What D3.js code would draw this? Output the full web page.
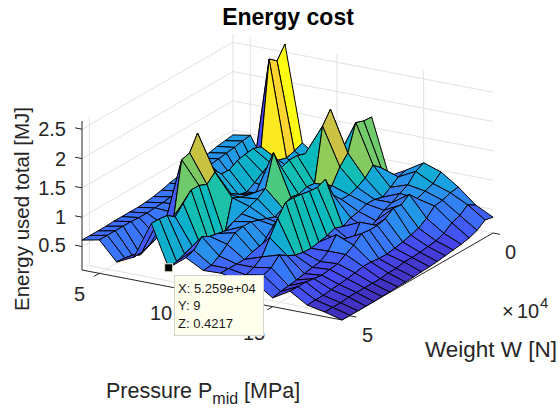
<!DOCTYPE html>
<html><head><meta charset="utf-8">
<style>html,body{margin:0;padding:0;background:#fff}svg{display:block}text{font-family:"Liberation Sans",Arial,sans-serif}</style>
<script src="https://cdn.jsdelivr.net/npm/d3@7"></script></head><body><svg id="c" width="560" height="414"></svg>
<script>
const weightN = [0,2768,5536,8303,11071,13839,16607,19375,22142,24910,27678,30446,33214,35982,38749,41517,44285,47053,49821,52590];
const pressureMPa = [4,5,6,7,8,9,10,11,12,13,14,15,16,17,18,19];
const zP04 = [.92,.90,.88,.85,.84,.82,.80,.75,.72,.68,.65,.63,.62,.62,.62,.62,.61,.61,.61,.61];
const zP05 = [.97,.95,.92,.90,.88,.86,.84,.8,.76,.72,.7,.68,.67,.66,.66,.67,.67,.67,.67,.67];
const zP06 = [.45,.42,.38,.45,.55,.6,.6,.6,.65,.7,.7,.7,.65,.5,.4,.33,.24,.3,.34,.35];
const zP07 = [2.64,2.43,2.54,1.12,1.17,1.15,1.12,1.04,1.05,1.2,1.55,1.98,1.72,1.68,.78,.7,.6,.55,.5,.49];
const zP08 = [1.01,.95,.91,.95,.98,.9,.8,.72,.75,.85,.95,1.37,1.24,1.3,1.3,1.15,1.0,1.1,1.12,1.12];
const zP09 = [.8,.78,.75,.8,.85,.8,.75,.75,.85,.88,.92,.99,.42,.45,.5,.5,.55,.5,.45,.4217];
const zP10 = [.8,.85,.95,1.1,1.25,1.3,1.3,1.25,1.58,1.05,.95,.9,.85,.8,.72,.75,.78,.85,.7,.65];
const zP11 = [.9,1.0,1.1,1.99,1.78,.88,.9,.85,.88,.77,.7,.75,.8,.85,.85,.82,.7,.58,.5,.49];
const zP12 = [1.68,1.69,1.74,1.3,1.14,.9,.8,.75,.7,.7,.7,.7,.75,.6,.55,.55,.5,.5,.5,.5];
const zP13 = [.73,.95,1.07,.93,.85,.8,.8,.95,1.3,1.24,1.25,1.28,1.3,1.3,1.1,.85,.6,.5,.45,.45];
const zP14 = [.89,.85,.75,.66,.7,.7,.65,.62,.55,.6,.55,.52,.49,.5,.53,.6,.69,.55,.5,.45];
const zP15 = [1.07,1.0,.85,.78,.7,.65,.55,.47,.68,.42,.55,.7,.5,.4,.38,.35,.32,.3,.28,.25];
const zP16 = [.97,.85,.8,.75,.9,.8,.82,.72,.68,.68,.7,.58,.5,.42,.4,.38,.4,.42,.42,.42];
const zP17 = [.77,.75,.7,.68,.55,.46,.42,.38,.35,.33,.33,.35,.35,.32,.3,.28,.27,.25,.25,.24];
const zP18 = [.52,.6,.5,.45,.35,.3,.28,.26,.25,.25,.22,.22,.2,.2,.2,.2,.2,.18,.18,.18];
const zP19 = [.37,.4,.3,.25,.22,.2,.18,.16,.15,.14,.13,.12,.12,.11,.11,.1,.1,.1,.1,.1];
const zRows = [zP04,zP05,zP06,zP07,zP08,zP09,zP10,zP11,zP12,zP13,zP14,zP15,zP16,zP17,zP18,zP19];
const zTicks = [0.5,1,1.5,2,2.5];
const pTicks = [5,10,15];
const wTicks = [0,50000];
const parulaStops = ["#3e26a8","#4748f0","#3b75fb","#1c9fe4","#06b9c0","#34c88f","#96cb55","#e2bd3a","#fdc83a","#fbfb14"];

const svg = d3.select("#c");
const X = d3.scaleLinear().domain([0,52590]).range([0,1]);
const Y = d3.scaleLinear().domain([4,19]).range([0,1]);
const Z = d3.scaleLinear().domain([0.1,2.64]).range([0,1]);
const color = d3.scaleLinear().domain(d3.range(parulaStops.length).map(k=>0.1+2.54*k/(parulaStops.length-1))).range(parulaStops).clamp(true);
const pr = (x,y,z) => [233 - 151*X(x) + 260*Y(y), 183 + 87*X(x) + 50*Y(y) - 149*Z(z)];
const zLo=0.1, zHi=2.64, wMax=52590, pMin=4, pMax=19;
const line = d3.line();
const ink="#262626", grid="#e1e1e1";
const gg = svg.append("g").attr("fill","none").attr("stroke",grid).attr("stroke-width",1);
const seg=(g,a,b)=>g.append("path").attr("d",line([a,b]));
zTicks.forEach(z=>{seg(gg,pr(wMax,pMin,z),pr(0,pMin,z));seg(gg,pr(0,pMin,z),pr(0,pMax,z));});
pTicks.forEach(p=>{seg(gg,pr(wMax,p,zLo),pr(0,p,zLo));seg(gg,pr(0,p,zLo),pr(0,p,zHi));});
wTicks.forEach(w=>{seg(gg,pr(w,pMin,zLo),pr(w,pMax,zLo));seg(gg,pr(w,pMin,zLo),pr(w,pMin,zHi));});
const ga = svg.append("g").attr("fill","none").attr("stroke",ink).attr("stroke-width",1);
seg(ga,pr(wMax,pMin,zLo),pr(wMax,pMin,zHi));
seg(ga,pr(wMax,pMin,zLo),pr(wMax,pMax,zLo));
seg(ga,pr(wMax,pMax,zLo),pr(0,pMax,zLo));
zTicks.forEach(z=>seg(ga,pr(wMax,pMin,z),pr(wMax,pMin-0.4,z)));
pTicks.forEach(p=>seg(ga,pr(wMax,p,zLo),pr(wMax+1900,p,zLo)));
wTicks.forEach(w=>seg(ga,pr(w,pMax,zLo),pr(w,pMax+0.4,zLo)));
const sg = svg.append("g").attr("stroke","#000").attr("stroke-width",1).attr("stroke-linejoin","round");
pressureMPa.slice(0,-1).forEach((p,j)=>{
  weightN.slice(0,-1).forEach((w,i)=>{
    const pts=[pr(w,p,zRows[j][i]),pr(weightN[i+1],p,zRows[j][i+1]),pr(weightN[i+1],pressureMPa[j+1],zRows[j+1][i+1]),pr(w,pressureMPa[j+1],zRows[j+1][i])];
    sg.append("path").attr("d",line(pts)+"Z").attr("fill",color(zRows[j][i]));
  });
});
const T=(x,y,s,o={})=>svg.append("text").attr("x",x).attr("y",y).attr("font-size",o.size||20).attr("fill",o.fill||ink).attr("text-anchor",o.anchor||"start").attr("font-weight",o.weight||"normal").attr("transform",o.rot?`rotate(${o.rot} ${x} ${y})`:null).text(s);
T(288,25,"Energy cost",{size:23,weight:"bold",anchor:"middle",fill:"#000"});
[["2.5",136],["2",166],["1.5",195],["1",224],["0.5",252]].forEach(d=>T(66,d[1],d[0],{anchor:"end"}));
T(74,301,"5");T(150,320,"10");T(243,340,"15");
T(362,342,"5");T(505,259,"0");
T(502,318,"\u00d7");T(517,318,"10");T(540,308,"4",{size:15});
T(425,357,"Weight W [N]",{size:22.5});
const tp=T(106,398,"Pressure P",{size:21.5});tp.append("tspan").attr("dy",6).attr("font-size",16).text("mid");tp.append("tspan").attr("dy",-6).text(" [MPa]");
T(29,311,"Energy used total [MJ]",{rot:-90,size:20.5});
const tipP=pr(52590,9,0.4217);
svg.append("rect").attr("x",tipP[0]-4).attr("y",tipP[1]-4).attr("width",8).attr("height",8).attr("fill","#000").attr("stroke","#e8e8c8").attr("stroke-width",1);
svg.append("rect").attr("x",174.5).attr("y",275.5).attr("width",89).attr("height",60).attr("fill","#ffffee").attr("stroke","#d4d4d0");
["X: 5.259e+04","Y: 9","Z: 0.4217"].forEach((s,k)=>T(178,293+17.4*k,s,{size:13,fill:"#1a1a1a"}));
</script></body></html>
